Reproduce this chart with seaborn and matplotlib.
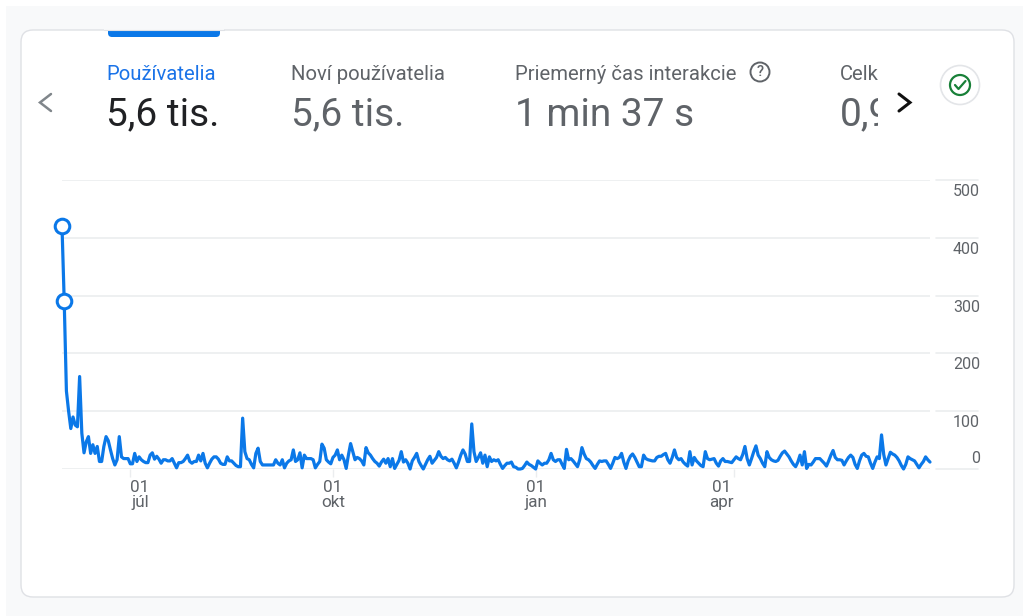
import matplotlib
matplotlib.use('Agg')
import numpy as np
import pandas as pd
import seaborn as sns
from matplotlib import pyplot as plt
from matplotlib.patches import Circle, FancyBboxPatch, Rectangle
from matplotlib.transforms import Bbox, ScaledTranslation

users = [
    420, 291, 135, 100, 70, 90, 76, 73, 160, 62,
    28, 47, 56, 27, 42, 27, 39, 13, 13, 39,
    56, 49, 33, 18, 7, 16, 56, 21, 18, 18,
    18, 9, 9, 27, 13, 21, 16, 13, 11, 11,
    24, 28, 17, 22, 17, 10, 16, 16, 14, 14,
    18, 10, 2, 11, 11, 13, 18, 24, 13, 10,
    13, 13, 24, 14, 27, 10, 2, 10, 17, 21,
    21, 17, 10, 8, 8, 21, 14, 14, 10, 6,
    4, 4, 88, 30, 18, 16, 8, 2, 27, 36,
    13, 7, 7, 7, 7, 7, 7, 16, 10, 7,
    16, 2, 10, 14, 16, 33, 13, 16, 28, 2,
    24, 18, 18, 18, 16, 2, 8, 13, 43, 36,
    16, 12, 9, 20, 24, 33, 16, 24, 16, 1,
    24, 44, 30, 16, 20, 18, 14, 7, 37, 28,
    24, 18, 13, 10, 5, 12, 17, 10, 18, 4,
    18, 1, 8, 15, 30, 12, 16, 10, 0, 14,
    20, 27, 13, 6, 0, 8, 16, 22, 10, 15,
    20, 30, 22, 18, 20, 16, 14, 17, 10, 2,
    12, 24, 33, 26, 13, 13, 78, 30, 13, 20,
    28, 10, 24, 4, 21, 13, 16, 14, 16, 8,
    1, 6, 10, 10, 12, 4, 3, 0, 0, 1,
    6, 12, 8, 6, 3, 0, 14, 10, 7, 10,
    10, 16, 27, 16, 13, 16, 16, 8, 1, 34,
    16, 18, 14, 9, 4, 16, 37, 26, 18, 16,
    12, 6, 1, 8, 14, 13, 14, 14, 8, 1,
    10, 20, 18, 20, 27, 12, 1, 14, 22, 26,
    20, 12, 4, 4, 24, 18, 16, 15, 14, 14,
    20, 22, 22, 25, 27, 16, 10, 20, 33, 20,
    16, 18, 12, 8, 5, 30, 7, 20, 14, 10,
    6, 4, 30, 18, 16, 17, 18, 10, 5, 14,
    18, 13, 13, 12, 11, 16, 21, 18, 16, 25,
    39, 18, 7, 18, 30, 40, 24, 18, 10, 4,
    30, 20, 16, 14, 13, 15, 22, 28, 31, 26,
    21, 14, 8, 4, 12, 24, 7, 30, 1, 8,
    7, 12, 18, 18, 18, 14, 10, 5, 14, 24,
    32, 20, 16, 16, 15, 7, 14, 20, 24, 20,
    8, 1, 14, 24, 27, 22, 21, 10, 1, 12,
    21, 18, 59, 25, 7, 18, 29, 26, 24, 20,
    14, 6, 0, 8, 21, 18, 16, 14, 8, 2,
    8, 13, 21, 16, 12,
]
dates = pd.date_range('2022-05-31', periods=len(users), freq='D')

y_ticks = [0, 100, 200, 300, 400, 500]
x_ticks = ['2022-07-01', '2022-10-01', '2023-01-01', '2023-04-01']
x_labels = ['01\njúl', '01\nokt', '01\njan', '01\napr']

tab_labels = ['Používatelia', 'Noví používatelia', 'Priemerný čas interakcie', 'Celk']
tab_values = ['5,6 tis.', '5,6 tis.', '1 min 37 s', '0,9']

W, H = 1023, 616
BLUE = '#0b78e8'
GRAY = '#5f6368'
GRID = '#ebedef'
PAGE = '#f8f9fa'
BORDER = '#dfe1e5'

sns.set_theme(style='white')
plt.rcParams['font.family'] = ['Roboto', 'DejaVu Sans']

fig = plt.figure(figsize=(W / 100, H / 100), dpi=100, facecolor='white')

# pixel coordinates for the card around the chart
bg = fig.add_axes([0, 0, 1, 1], zorder=0)
bg.set_xlim(0, W)
bg.set_ylim(H, 0)
bg.axis('off')
bg.add_patch(Rectangle((6, 6), W - 6, H - 6, fc=PAGE, ec='none'))
bg.add_patch(FancyBboxPatch((21, 30), 993, 567, boxstyle='round,pad=0,rounding_size=12',
                            fc='white', ec=BORDER, lw=1))
bg.add_patch(FancyBboxPatch((108, 26), 112, 11, boxstyle='round,pad=0,rounding_size=4',
                            fc=BLUE, ec='none'))
bg.add_patch(Rectangle((104, 24), 120, 6.5, fc=PAGE, ec='none'))
bg.plot([104, 224], [30, 30], color=BORDER, lw=0.8)

tab_x = [106, 291, 515, 840]
tab_colors = ['#1a73e8', GRAY, GRAY, GRAY]
value_colors = ['#202124', GRAY, GRAY, GRAY]
clip = Bbox([[0, 0], [878, H]])
for i in range(4):
    bg.text(tab_x[i], 75, tab_labels[i], color=tab_colors[i], fontsize=14.6, va='center', ha='left')
    t = bg.text(tab_x[i], 115, tab_values[i], color=value_colors[i], fontsize=28, va='center', ha='left')
    if i == 3:
        t.set_clip_box(clip)
        t.set_clip_on(True)

bg.plot([51, 40, 51], [94, 102.5, 111], color='#80868b', lw=1.8, solid_joinstyle='miter')
bg.plot([899, 910, 899], [94, 102.5, 111], color='#111111', lw=2.2, solid_joinstyle='miter')

# help icon and check badge
bg.add_patch(Circle((760, 72), 9.5, fc='none', ec=GRAY, lw=1.4))
bg.text(760, 72.5, '?', color=GRAY, fontsize=10.5, ha='center', va='center', fontweight='medium')
bg.add_patch(Circle((960, 85), 19.5, fc='white', ec='#e3e5e8', lw=1.2))
bg.add_patch(Circle((960, 85), 10, fc='none', ec='#188038', lw=1.6))
bg.plot([955, 958.5, 965.5], [85, 89, 81], color='#188038', lw=1.6)

ax = fig.add_axes([62 / W, 1 - 469 / H, (930 - 62) / W, (469 - 180) / H], zorder=1)
ax.patch.set_alpha(0)
sns.lineplot(x=dates, y=users, ax=ax, color=BLUE, linewidth=2.3, clip_on=False)
sns.scatterplot(x=dates[:2], y=users[:2], ax=ax, s=110, color='white', edgecolor=BLUE,
                linewidth=2.2, zorder=5, clip_on=False)

ax.set_xlim(dates[0], dates[-1])
ax.set_ylim(0, 500)
sns.despine(ax=ax, left=True, bottom=True, top=True, right=True)

ax.set_yticks(y_ticks)
ax.yaxis.tick_right()
ax.grid(axis='y', color=GRID, lw=1.2)
ax.set_axisbelow(True)
ax.tick_params(axis='y', length=0, pad=36, labelsize=11.5, labelcolor=GRAY)
for tick, lab in zip(y_ticks, ax.get_yticklabels()):
    lab.set_ha('right')
    lab.set_va('bottom' if tick == 0 else 'top')
    # labels sit below their line, the 0 above it
    shift = 3 if tick == 0 else -4
    lab.set_transform(lab.get_transform() + ScaledTranslation(0, shift / 100, fig.dpi_scale_trans))

# short grid segments under the value labels, to the right of the gap
x0, x1 = (936 - 62) / (930 - 62), (978 - 62) / (930 - 62)
for tick in y_ticks:
    ax.plot([x0, x1], [tick, tick], color=GRID, lw=1.2,
            transform=ax.get_yaxis_transform(), clip_on=False)

ax.set_xticks(pd.to_datetime(x_ticks))
ax.set_xticklabels(x_labels, linespacing=1.0)
ax.tick_params(axis='x', bottom=True, length=6, width=1, color=GRID, pad=2,
               labelsize=12.3, labelcolor=GRAY)
labs = ax.get_xticklabels()
labs[0].set_ha('left')
labs[-1].set_ha('right')
for lab in labs:
    lab.set_multialignment('center')
ax.set_xlabel('')
ax.set_ylabel('')

fig.savefig('out.png', dpi=100, facecolor=fig.get_facecolor())
